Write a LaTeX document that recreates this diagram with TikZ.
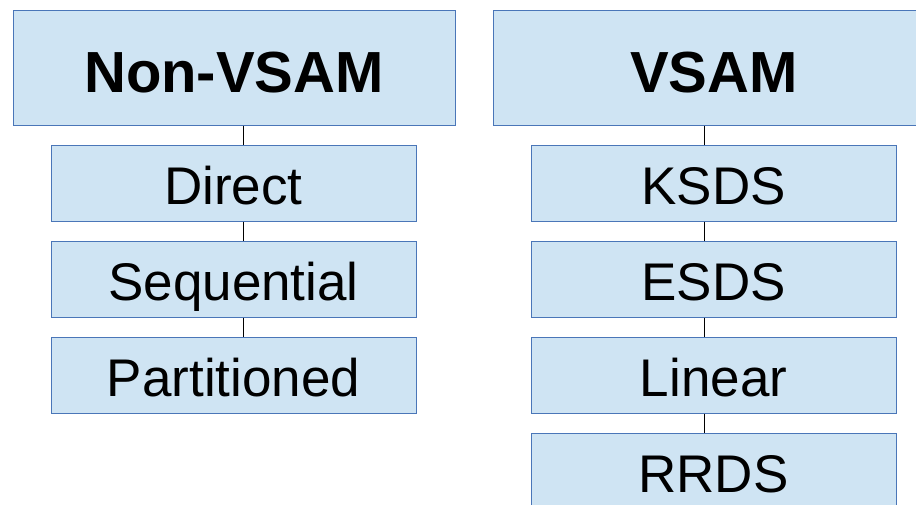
\documentclass[tikz,border=0pt]{standalone}
\usepackage{fontspec}
\setmainfont{Liberation Sans}
\usetikzlibrary{calc}
\definecolor{boxfill}{HTML}{CFE4F3}
\definecolor{boxline}{HTML}{4A76B8}
\begin{document}
\begin{tikzpicture}[x=1pt,y=-1pt,
  head/.style={draw=boxline,fill=boxfill,line width=1pt,minimum width=442pt,minimum height=115pt,
    inner sep=0pt,text height=49pt,text depth=0pt,font=\fontsize{58}{60}\selectfont\bfseries},
  item/.style={draw=boxline,fill=boxfill,line width=1pt,minimum width=365pt,minimum height=76pt,
    inner sep=0pt,text height=42pt,text depth=0pt,font=\fontsize{53}{55}\selectfont},
  link/.style={draw=black,line width=0.9pt}]
\useasboundingbox (0,0) rectangle (916,504);
\clip (0,0) rectangle (916,504);
% left column
\node[head] (nv) at (234,67.5) {Non-VSAM};
\node[item] (direct) at (233.5,183) {Direct};
\node[item] (seq) at (233.5,279) {Sequential};
\node[item] (part) at (233.5,375) {Partitioned};
% right column
\node[head] (vs) at (714,67.5) {VSAM};
\node[item] (ksds) at (713.5,183) {KSDS};
\node[item] (esds) at (713.5,279) {ESDS};
\node[item] (lin) at (713.5,375) {Linear};
\node[item] (rrds) at (713.5,471) {RRDS};
% connectors
\draw[link] ([xshift=9pt]nv.south) -- ([xshift=9.5pt]direct.north);
\draw[link] ([xshift=9.5pt]direct.south) -- ([xshift=9.5pt]seq.north);
\draw[link] ([xshift=9.5pt]seq.south) -- ([xshift=9.5pt]part.north);
\draw[link] ([xshift=-10pt]vs.south) -- ([xshift=-9.5pt]ksds.north);
\draw[link] ([xshift=-9.5pt]ksds.south) -- ([xshift=-9.5pt]esds.north);
\draw[link] ([xshift=-9.5pt]esds.south) -- ([xshift=-9.5pt]lin.north);
\draw[link] ([xshift=-9.5pt]lin.south) -- ([xshift=-9.5pt]rrds.north);
\end{tikzpicture}
\end{document}
